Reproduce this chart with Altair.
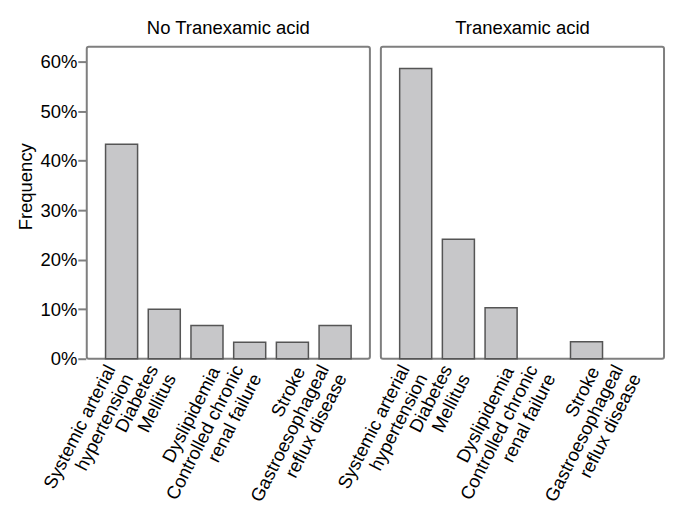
import altair as alt
import pandas as pd

groups = ["No Tranexamic acid", "Tranexamic acid"]
conditions = [
    "Systemic arterial|hypertension",
    "Diabetes|Mellitus",
    "Dyslipidemia",
    "Controlled chronic|renal failure",
    "Stroke",
    "Gastroesophageal|reflux disease",
]
no_txa = [0.433, 0.100, 0.067, 0.033, 0.033, 0.067]
txa = [0.586, 0.241, 0.103, 0.0, 0.034, 0.0]
y_ticks = [0, 0.1, 0.2, 0.3, 0.4, 0.5, 0.6]

rows = []
for g, vals in zip(groups, [no_txa, txa]):
    for c, v in zip(conditions, vals):
        if v > 0:
            rows.append({"group": g, "condition": c, "freq": v})
df = pd.DataFrame(rows)

FONT = "Liberation Sans"
FS = 18.5
MULTI = "indexof(datum.label, '|') >= 0"

base = alt.Chart(df).mark_bar(
    fill="#c7c7c9", stroke="#555555", strokeWidth=1.5
).encode(
    x=alt.X(
        "condition:N",
        sort=conditions,
        scale=alt.Scale(domain=conditions, paddingInner=0.25, paddingOuter=0.44),
        axis=alt.Axis(
            title=None,
            labelAngle=-63,
            labelAlign="right",
            labelBaseline="middle",
            labelExpr="split(datum.label, '|')",
            labelFont=FONT,
            labelFontSize=18.5,
            labelColor="#000000",
            labelLineHeight=20,
            labelOffset={"condition": {"test": MULTI, "value": -11}, "value": 8},
            labelPadding={"condition": {"test": MULTI, "value": 5}, "value": 7},
            ticks=False,
            domain=False,
        ),
    ),
    y=alt.Y(
        "freq:Q",
        scale=alt.Scale(domain=[0, 0.63], nice=False),
        axis=alt.Axis(
            title="Frequency",
            values=y_ticks,
            format=".0%",
            labelFont=FONT,
            labelFontSize=FS,
            labelColor="#000000",
            labelPadding=1,
            tickSize=8,
            tickColor="#808080",
            tickWidth=2,
            domain=False,
            grid=False,
            titleFont=FONT,
            titleFontSize=FS,
            titleFontWeight="normal",
            titleColor="#000000",
            titlePadding=4,
            titleY=140,
        ),
    ),
).properties(width=284, height=313)

chart = base.facet(
    column=alt.Column(
        "group:N",
        sort=groups,
        header=alt.Header(
            title=None,
            labelFont=FONT,
            labelFontSize=FS,
            labelColor="#000000",
            labelPadding=8,
        ),
    ),
    spacing=9,
).properties(
    padding={"left": 8, "top": 10, "right": 5, "bottom": 5},
    background="#ffffff",
).configure_view(
    stroke="#7f7f7f", strokeWidth=2, cornerRadius=2
)

chart.save("out.html", embed_options={"renderer": "svg", "actions": False})
